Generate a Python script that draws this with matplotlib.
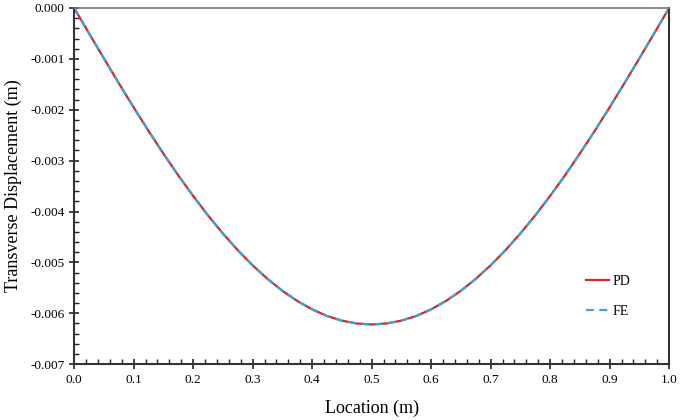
import matplotlib
matplotlib.use("Agg")
import matplotlib.pyplot as plt
from matplotlib.ticker import MultipleLocator, FormatStrFormatter

location = [0.0, 0.025, 0.05, 0.075, 0.1, 0.125, 0.15, 0.175, 0.2, 0.225, 0.25,
            0.275, 0.3, 0.325, 0.35, 0.375, 0.4, 0.425, 0.45, 0.475, 0.5,
            0.525, 0.55, 0.575, 0.6, 0.625, 0.65, 0.675, 0.7, 0.725, 0.75,
            0.775, 0.8, 0.825, 0.85, 0.875, 0.9, 0.925, 0.95, 0.975, 1.0]
pd_half = [0.0, -0.000497, -0.000990, -0.001477, -0.001953, -0.002415, -0.002861,
           -0.003289, -0.003694, -0.004076, -0.004432, -0.004760, -0.005058,
           -0.005324, -0.005558, -0.005758, -0.005923, -0.006053, -0.006145,
           -0.006201, -0.006220]
pd_disp = pd_half + pd_half[-2::-1]
fe_half = [0.0, -0.000498, -0.000991, -0.001478, -0.001954, -0.002416, -0.002862,
           -0.003290, -0.003695, -0.004077, -0.004433, -0.004761, -0.005059,
           -0.005325, -0.005559, -0.005759, -0.005924, -0.006054, -0.006146,
           -0.006202, -0.006221]
fe_disp = fe_half + fe_half[-2::-1]

plt.rcParams['font.family'] = ['Liberation Serif', 'DejaVu Serif']
fig = plt.figure(figsize=(6.8, 4.2), dpi=100)
ax = fig.add_axes([0.109, 0.133, 0.875, 0.848])

ax.plot(location, pd_disp, color='#e02424', lw=1.6, label='PD')
ax.plot(location, fe_disp, color='#35a6d6', lw=1.6, ls=(0, (3.5, 2.5)), label='FE')

ax.set_xlim(0, 1)
ax.set_ylim(-0.007, 0)
ax.xaxis.set_major_locator(MultipleLocator(0.1))
ax.xaxis.set_minor_locator(MultipleLocator(0.02))
ax.yaxis.set_major_locator(MultipleLocator(0.001))
ax.yaxis.set_minor_locator(MultipleLocator(0.0002))
ax.xaxis.set_major_formatter(FormatStrFormatter('%.1f'))
ax.yaxis.set_major_formatter(FormatStrFormatter('%.3f'))
ax.tick_params(which='major', direction='inout', length=7, width=1.2, labelsize=9.5, color='#222222')
ax.tick_params(which='minor', direction='in', length=3.5, width=1.0, color='#222222')
for name, s in ax.spines.items():
    s.set_linewidth(1.5)
    s.set_color('#333333')
ax.spines['top'].set_color('#777777')
ax.spines['top'].set_linewidth(1.2)
ax.set_xlabel('Location (m)', fontsize=13, labelpad=10)
ax.set_ylabel('Transverse Displacement (m)', fontsize=13, labelpad=6)
ax.legend(loc='lower right', bbox_to_anchor=(0.956, 0.095), frameon=False, fontsize=10,
          handlelength=1.6, labelspacing=1.2, handletextpad=0.3)

fig.savefig('out.png', dpi=100)
